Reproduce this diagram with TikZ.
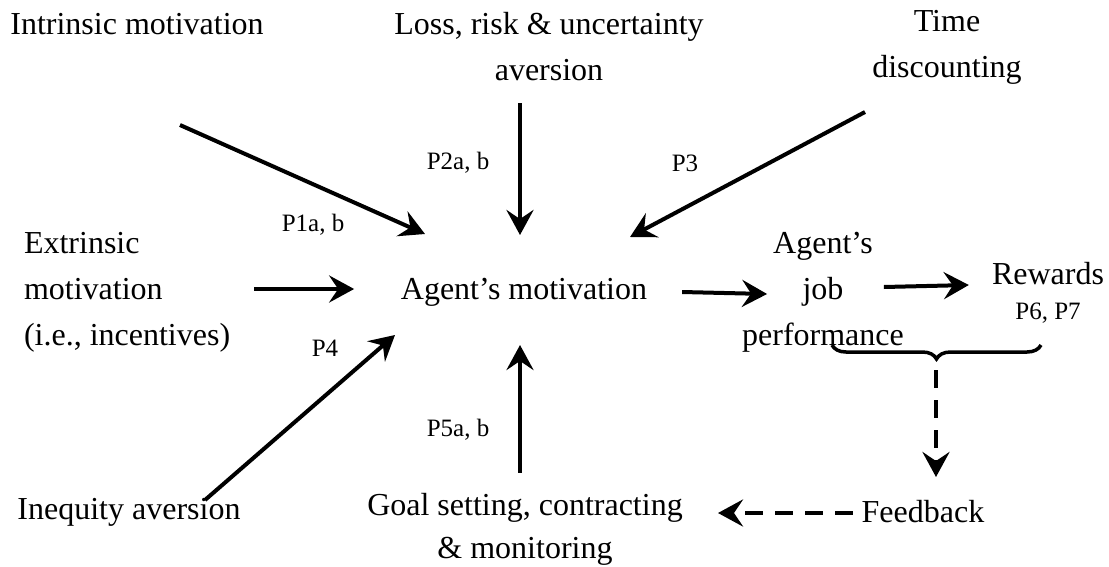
\documentclass[tikz,border=0pt]{standalone}
\usepackage{fontspec}
\setmainfont{Liberation Serif}
\usetikzlibrary{arrows.meta}
\usetikzlibrary{positioning}
\usetikzlibrary{decorations.pathreplacing}

\begin{document}
\begin{tikzpicture}[x = 1pt, y = -1pt, line width = 4pt,
    txt/.style  = {inner sep = 0pt, font = \fontsize{32}{46}\selectfont},
    plab/.style = {inner sep = 0pt, font = \fontsize{25}{30}\selectfont},
    arr/.style  = {-{Stealth[length = 25pt, width = 27pt, inset = 9pt]}},
    dasharr/.style = {arr, dash pattern = on 18pt off 12pt}]

    \useasboundingbox (0,0) rectangle (1109,566);

    % factors
    \node[txt] (intr) at (137,24) {Intrinsic motivation};
    \node[txt, align = center] (loss) at (549,47) {Loss, risk \& uncertainty\\aversion};
    \node[txt, align = center] (time) at (947,47) {Time\\discounting};
    \node[txt, align = left, anchor = west] (extr) at (22,292) {Extrinsic\\motivation\\(i.e., incentives)};
    \node[txt] (ineq) at (129,512) {Inequity aversion};
    \node[txt, align = center, font = \fontsize{32}{43}\selectfont] (goal) at (525,529)
        {Goal setting, contracting\\\& monitoring};

    % outcomes
    \node[txt] (motiv) at (524,292) {Agent's motivation};
    \node[txt, align = center] (perf) at (823,292) {Agent's\\job\\performance};
    \node[txt] (rew) at (1048,274) {Rewards};
    \node[plab] (p67) at (1048,313) {P6, P7};
    \node[txt] (feed) at (923,512) {Feedback};

    % propositions
    \node[plab] (p1) at (313,225) {P1a, b};
    \node[plab] (p2) at (458,163) {P2a, b};
    \node[plab] (p3) at (685,163) {P3};
    \node[plab] (p4) at (325,348) {P4};
    \node[plab] (p5) at (458,430) {P5a, b};

    % arrow ends
    \coordinate (intr-s) at (180,125);
    \coordinate (motiv-nw) at (425,234);
    \coordinate (time-s) at (865,112);
    \coordinate (motiv-ne) at (630,237);
    \coordinate (ineq-n) at (205,500);
    \coordinate (motiv-sw) at (395,335);
    \coordinate (brace-l) at (832,345);
    \coordinate (brace-r) at (1041,345);
    \coordinate (brace-m) at (936,370);

    \draw[arr] (intr-s) -- (motiv-nw);
    \draw[arr] (loss.south -| 520,0) ++(0,20) -- (520,235);
    \draw[arr] (time-s) -- (motiv-ne);
    \draw[arr] (extr.east) ++(22,-3) -- ++(100,0);
    \draw[arr] (ineq-n) -- (motiv-sw);
    \draw[arr] (goal.north -| 520,0) ++(0,-18) -- (520,345);
    \draw[arr] (motiv.east) ++(33,0) -- ++(85,2);
    \draw[arr] (perf.east) ++(-22,-5) -- ++(85,-2);

    \draw[line width = 3.5pt, decorate, decoration = {brace, amplitude = 14pt, mirror}]
        (brace-l) -- (brace-r);
    \draw[dasharr] (brace-m) -- (936,477);
    \draw[dasharr] (feed.west) ++(-7,1) -- (718,513);

\end{tikzpicture}
\end{document}
